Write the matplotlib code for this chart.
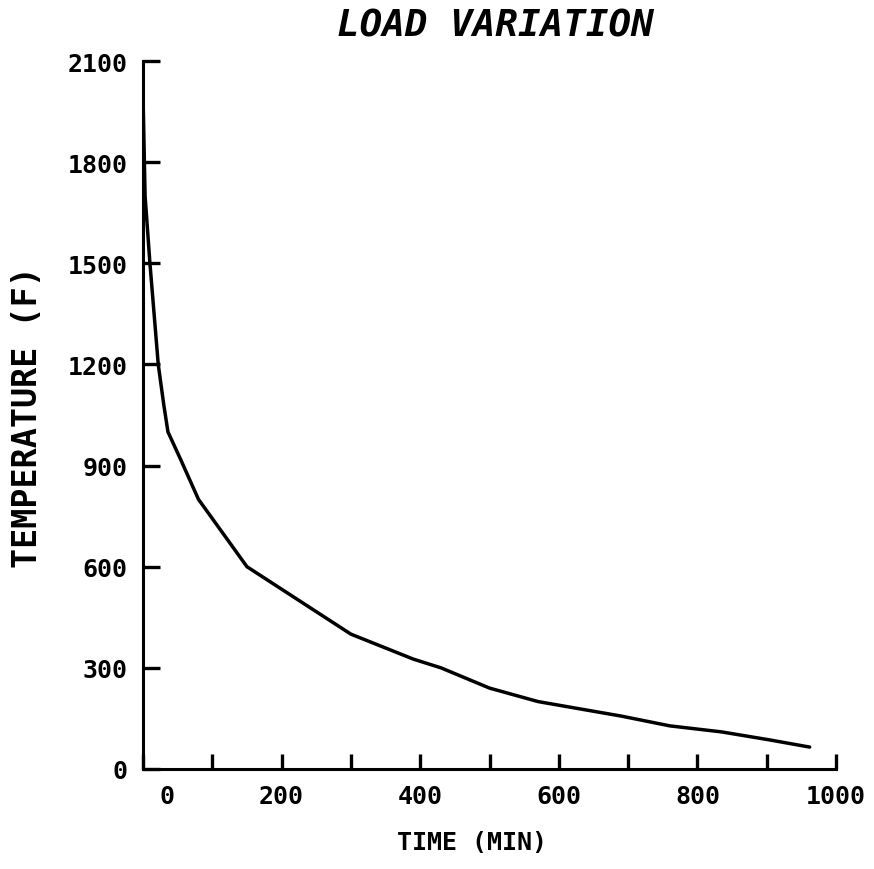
import matplotlib
matplotlib.use("Agg")
import matplotlib.pyplot as plt
import matplotlib.transforms as mtransforms

# Temperature decay of the load over time
time_min = [0, 3, 10, 22, 30, 36, 55, 80, 150, 300, 390, 430, 500, 570, 690, 760, 835, 905, 962]
temp_f = [2000, 1700, 1500, 1200, 1080, 1000, 915, 800, 600, 400, 326, 300, 240, 200, 157, 128, 110, 86, 65]

x_ticks = list(range(0, 1001, 100))
x_labels = [str(t) if t % 200 == 0 else "" for t in x_ticks]
y_ticks = list(range(0, 2101, 300))

FONT = "DejaVu Sans Mono"


def main():
    fig = plt.figure(figsize=(8.74, 8.70), dpi=100)
    ax = fig.add_axes([143 / 874, 100 / 870, 693 / 874, 708 / 870])

    ax.plot(time_min, temp_f, color="black", linewidth=2.5, solid_capstyle="round")

    ax.set_xlim(0, 1000)
    ax.set_ylim(0, 2100)

    for side in ("top", "right"):
        ax.spines[side].set_visible(False)
    for side in ("left", "bottom"):
        ax.spines[side].set_linewidth(2.2)

    ax.set_xticks(x_ticks)
    ax.set_xticklabels(x_labels, fontfamily=FONT, fontweight="bold", fontsize=18)
    ax.set_yticks(y_ticks)
    ax.set_yticklabels([str(t) for t in y_ticks], fontfamily=FONT, fontweight="bold", fontsize=18)

    ax.tick_params(axis="x", direction="in", length=11, width=2.4, pad=11)
    ax.tick_params(axis="y", direction="in", length=12, width=2.4, pad=11)

    # the "0" label sits to the right of the corner
    shift = mtransforms.ScaledTranslation(24 / 100, 0, fig.dpi_scale_trans)
    lbl0 = ax.get_xticklabels()[0]
    lbl0.set_transform(lbl0.get_transform() + shift)

    ax.set_xlabel("TIME (MIN)", fontfamily=FONT, fontweight="bold", fontsize=18, va="center")
    ax.xaxis.set_label_coords(0.475, -0.103)
    ax.set_ylabel("TEMPERATURE (F)", fontfamily=FONT, fontweight="bold", fontsize=24, va="center")
    ax.yaxis.set_label_coords(-0.167, 0.499)

    ax.text(0.508, 1.05, "LOAD VARIATION", transform=ax.transAxes, ha="center", va="center",
            fontfamily=FONT, fontweight="bold", fontstyle="italic", fontsize=27)

    fig.savefig("out.png", dpi=100)
    plt.close(fig)


if __name__ == "__main__":
    main()
